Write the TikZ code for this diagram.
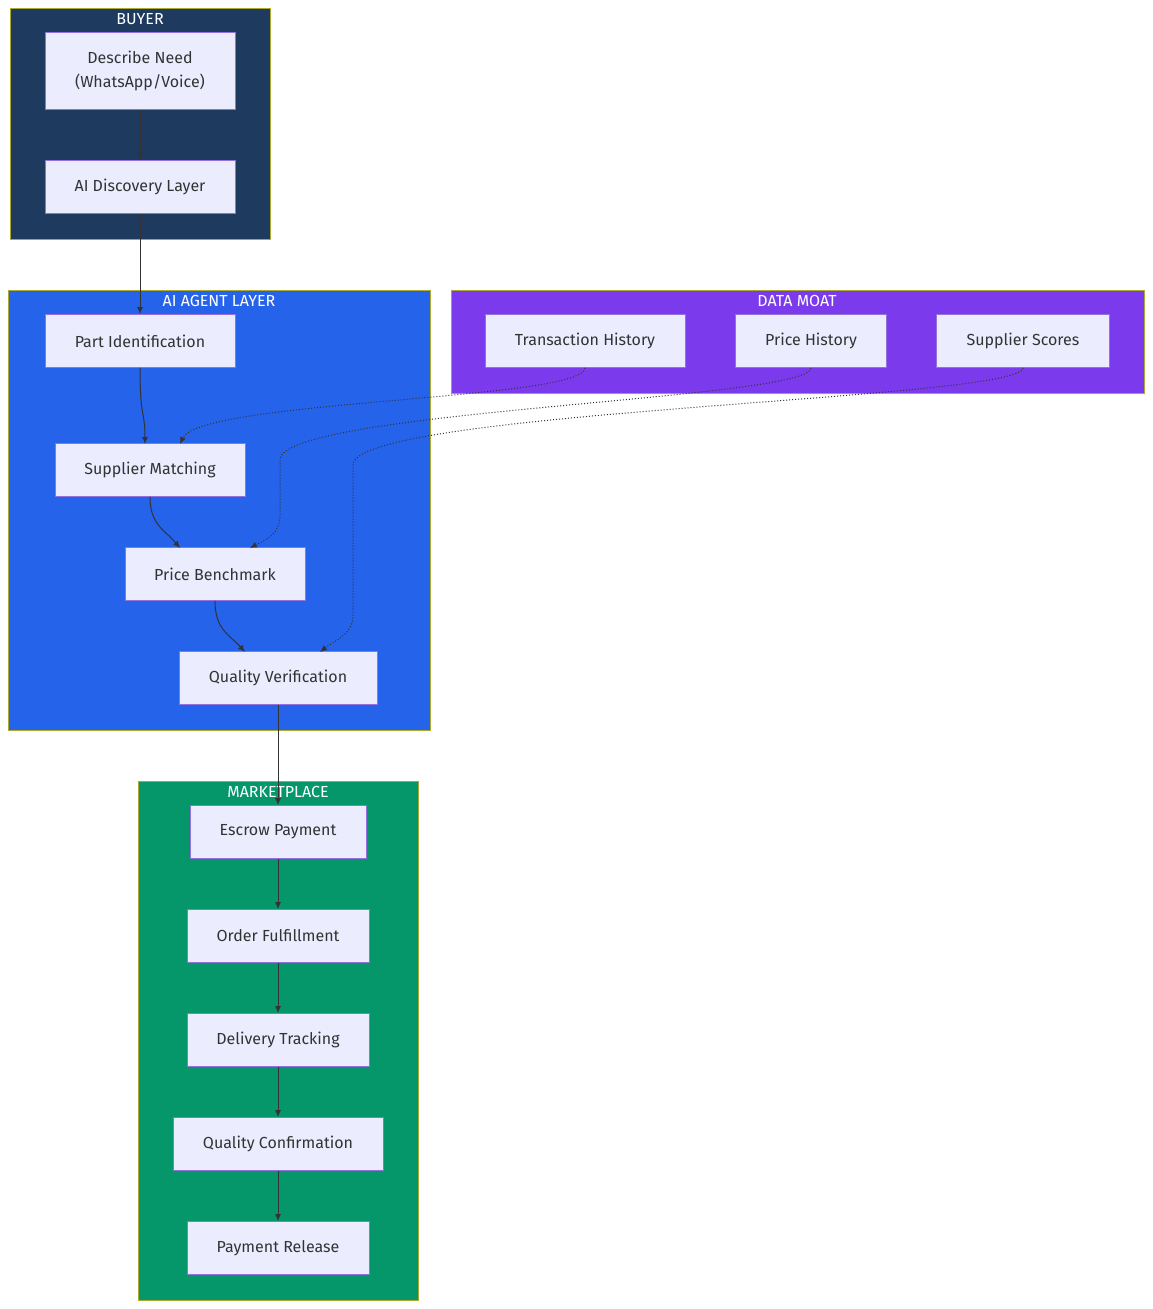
\documentclass[tikz,border=0pt]{standalone}
\usepackage{fontspec}
\setmainfont{Fira Sans}
\usetikzlibrary{arrows.meta}
\definecolor{nf}{HTML}{ECECFF}\definecolor{nb}{HTML}{9370DB}
\definecolor{cbuy}{HTML}{1E3A5F}\definecolor{cai}{HTML}{2563EB}
\definecolor{cdm}{HTML}{7C3AED}\definecolor{cmk}{HTML}{059669}
\definecolor{gb}{HTML}{AAAA33}\definecolor{ln}{HTML}{333333}
\begin{document}
\begin{tikzpicture}[x=1pt,y=-1pt,
 box/.style={draw=nb,fill=nf,line width=0.8pt,text=ln,font=\fontsize{16}{24}\selectfont,align=center,inner sep=0},
 grp/.style={draw=gb,line width=0.8pt},
 ttl/.style={text=white,font=\fontsize{16}{19}\selectfont},
 e/.style={draw=ln,line width=1pt,-{Latex[length=7pt,width=6pt]}},
 d/.style={e,dotted}]
\useasboundingbox (0,0) rectangle (1153,1309);
\fill[white] (0,0) rectangle (1153,1309);
\draw[grp,fill=cbuy] (10,8) rectangle (270,239);
\draw[grp,fill=cai] (8,290) rectangle (430,730);
\draw[grp,fill=cdm] (451,290) rectangle (1144,393);
\draw[grp,fill=cmk] (138,781) rectangle (418,1300);
\node[ttl] (tb) at (140,19) {BUYER};
\node[ttl] (ta) at (219,301) {AI AGENT LAYER};
\node[ttl] (td) at (797,301) {DATA MOAT};
\node[ttl] (tm) at (278,792) {MARKETPLACE};
\node[box,minimum width=190,minimum height=77] (dn) at (140,71) {Describe Need\\(WhatsApp/Voice)};
\node[box,minimum width=190,minimum height=53] (ad) at (140,187) {AI Discovery Layer};
\node[box,minimum width=190,minimum height=53] (pi) at (140,341) {Part Identification};
\node[box,minimum width=190,minimum height=53] (sm) at (150,470) {Supplier Matching};
\node[box,minimum width=180,minimum height=53] (pb) at (215,574) {Price Benchmark};
\node[box,minimum width=198,minimum height=53] (qv) at (278,678) {Quality Verification};
\node[box,minimum width=200,minimum height=53] (th) at (585,341) {Transaction History};
\node[box,minimum width=151,minimum height=53] (ph) at (811,341) {Price History};
\node[box,minimum width=173,minimum height=53] (ss) at (1023,341) {Supplier Scores};
\node[box,minimum width=176,minimum height=53] (ep) at (278,832) {Escrow Payment};
\node[box,minimum width=182,minimum height=53] (of) at (278,936) {Order Fulfillment};
\node[box,minimum width=182,minimum height=53] (dt) at (278,1040) {Delivery Tracking};
\node[box,minimum width=210,minimum height=53] (qc) at (278,1144) {Quality Confirmation};
\node[box,minimum width=182,minimum height=53] (pr) at (278,1248) {Payment Release};
\draw[e] (dn) -- (ad);
\draw[e] (ad) -- (pi);
\draw[e] (pi.south) .. controls (140,420) and (145,410) .. (145,444);
\draw[e] (sm.south) .. controls (150,525) and (165,530) .. (180,548);
\draw[e] (pb.south) .. controls (215,630) and (230,635) .. (245,652);
\draw[e] (qv) -- (ep);
\draw[e] (ep) -- (of);
\draw[e] (of) -- (dt);
\draw[e] (dt) -- (qc);
\draw[e] (qc) -- (pr);
\draw[d] (th.south) .. controls (585,400) and (200,400) .. (180,444);
\draw[d] (ph.south) .. controls (811,400) and (280,410) .. (280,460) -- (280,515) .. controls (280,535) and (265,540) .. (250,548);
\draw[d] (ss.south) .. controls (1023,400) and (353,410) .. (353,465) -- (353,615) .. controls (353,635) and (335,640) .. (320,652);
\end{tikzpicture}
\end{document}
